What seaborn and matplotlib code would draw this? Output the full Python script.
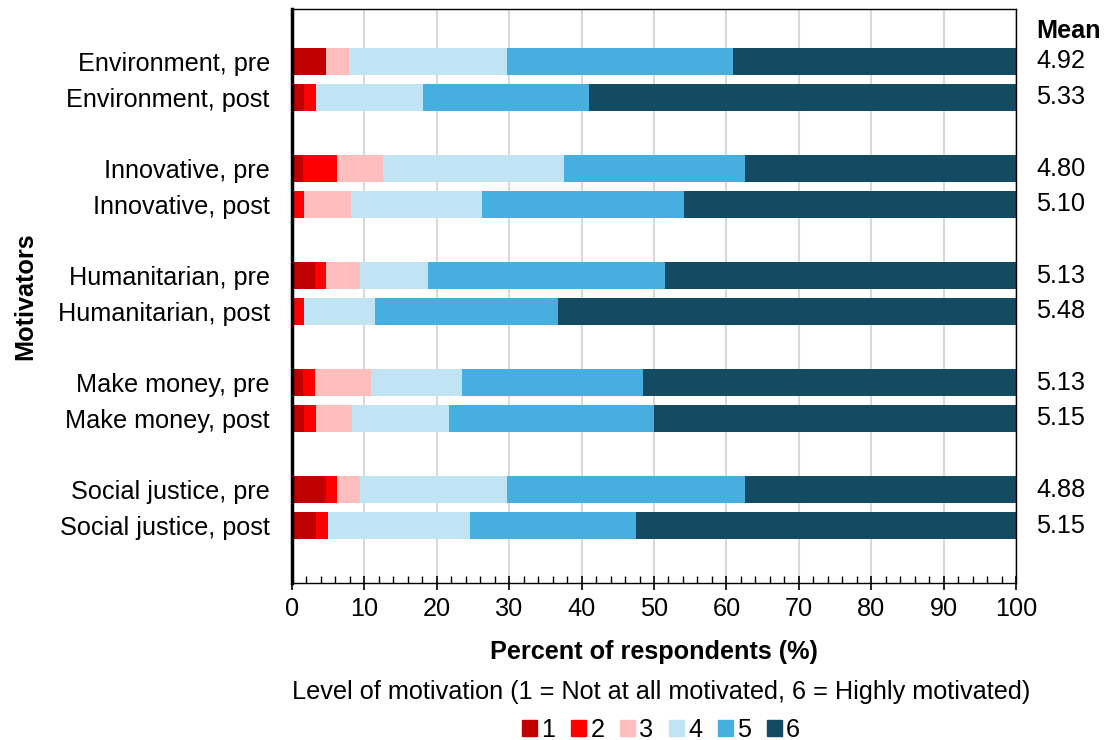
import matplotlib
matplotlib.use("Agg")
import matplotlib.pyplot as plt
import matplotlib.patches as mpatches
from matplotlib.ticker import MultipleLocator
import numpy as np
import pandas as pd
import seaborn as sns

# Rows of the chart (top to bottom)
rows = [
    "Environment, pre", "Environment, post",
    "Innovative, pre", "Innovative, post",
    "Humanitarian, pre", "Humanitarian, post",
    "Make money, pre", "Make money, post",
    "Social justice, pre", "Social justice, post",
]

# Percent of respondents at each motivation level, per row
level_1 = [4.69, 1.64, 1.56, 0.00, 3.13, 0.00, 1.56, 1.67, 4.69, 3.28]
level_2 = [0.00, 1.64, 4.69, 1.64, 1.56, 1.64, 1.56, 1.67, 1.56, 1.64]
level_3 = [3.13, 0.00, 6.25, 6.56, 4.69, 0.00, 7.81, 5.00, 3.13, 0.00]
level_4 = [21.88, 14.75, 25.00, 18.03, 9.38, 9.84, 12.50, 13.33, 20.31, 19.67]
level_5 = [31.25, 22.95, 25.00, 27.87, 32.81, 25.20, 25.00, 28.33, 32.81, 22.95]
level_6 = [39.06, 59.02, 37.50, 45.90, 48.44, 63.32, 51.56, 50.00, 37.50, 52.46]

means = ["4.92", "5.33", "4.80", "5.10", "5.13", "5.48", "5.13", "5.15", "4.88", "5.15"]

level_names = ["1", "2", "3", "4", "5", "6"]
level_colors = ["#C00000", "#FF0000", "#FFBEBE", "#C1E4F4", "#46AFE0", "#134B63"]

# Category order with blank slots separating the pre/post pairs
order = []
for i in range(0, len(rows), 2):
    order += [rows[i], rows[i + 1]]
    if i + 2 < len(rows):
        order.append(" " * (i // 2 + 1))

FS = 18.2

sns.set_theme(style="white")
plt.rcParams["font.family"] = ["Liberation Sans", "DejaVu Sans"]
plt.rcParams["font.size"] = FS
for key in ["text.color", "axes.labelcolor", "xtick.color", "ytick.color"]:
    plt.rcParams[key] = "black"

fig = plt.figure(figsize=(11.12, 7.40), dpi=100)
ax = fig.add_axes([292 / 1112, 1 - 583 / 740, 724 / 1112, 574 / 740])

levels = np.array([level_1, level_2, level_3, level_4, level_5, level_6])
cum = np.cumsum(levels, axis=0)

# Stacked bars: draw cumulative totals from the top level down
for k in range(5, -1, -1):
    df = pd.DataFrame({"row": rows, "value": cum[k]})
    sns.barplot(data=df, x="value", y="row", order=order, orient="h",
                color=level_colors[k], saturation=1, width=0.76,
                linewidth=0, ax=ax, zorder=2)

ax.set_xlim(0, 100)
ax.set_ylim(14.61, -1.47)
ax.xaxis.set_major_locator(MultipleLocator(10))
ax.xaxis.set_minor_locator(MultipleLocator(2))
ax.grid(axis="x", which="major", color="#D9D9D9", linewidth=1.5, zorder=0)
ax.set_axisbelow(True)

ax.tick_params(axis="x", which="major", direction="inout", length=10,
               width=1.2, color="black", labelsize=FS, pad=5, bottom=True)
ax.tick_params(axis="x", which="minor", direction="in", length=5,
               width=1.0, color="black", bottom=True)
ax.tick_params(axis="y", length=0, labelsize=FS, pad=16)

for side in ["top", "right", "bottom"]:
    ax.spines[side].set_visible(True)
    ax.spines[side].set_color("black")
    ax.spines[side].set_linewidth(1.0)
ax.spines["left"].set_color("black")
ax.spines["left"].set_linewidth(2.5)

ax.set_xlabel("Percent of respondents (%)", fontsize=FS, fontweight="bold",
              labelpad=14)
ax.set_ylabel("Motivators", fontsize=FS, fontweight="bold", labelpad=15)

# Mean column to the right of the bars
trans = ax.get_yaxis_transform()
ax.text(1.028, -0.85, "Mean", transform=trans, fontsize=FS,
        fontweight="bold", ha="left", va="center")
for r, m in zip(rows, means):
    ax.text(1.028, order.index(r), m, transform=trans, fontsize=FS,
            ha="left", va="center")

handles = [mpatches.Patch(color=c, label=n) for c, n in zip(level_colors, level_names)]
leg = ax.legend(handles=handles, loc="upper center", bbox_to_anchor=(0.51, -0.152),
                ncol=6, frameon=False, fontsize=FS,
                title="Level of motivation (1 = Not at all motivated, 6 = Highly motivated)",
                title_fontsize=FS, handlelength=0.6, handleheight=0.6,
                handletextpad=0.16, columnspacing=0.62, borderaxespad=0,
                labelspacing=0.2)
leg._legend_box.sep = 10

fig.savefig("out.png", dpi=100)
